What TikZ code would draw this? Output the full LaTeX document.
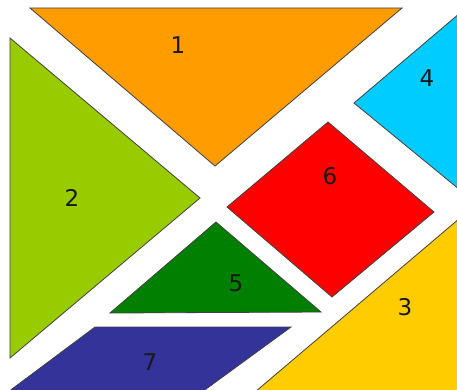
\documentclass[tikz,border=0pt]{standalone}
\usepackage{fontspec}
\setmainfont{DejaVu Sans}
\definecolor{pOrange}{HTML}{FF9C00}
\definecolor{pLime}{HTML}{99CC00}
\definecolor{pCyan}{HTML}{00CCFF}
\definecolor{pRed}{HTML}{FF0000}
\definecolor{pDark}{HTML}{007F00}
\definecolor{pBlue}{HTML}{333399}
\definecolor{pYellow}{HTML}{FFCC00}
\begin{document}
\begin{tikzpicture}[x=1pt,y=-1pt,
  piece/.style={draw=black!75, line width=0.8pt, line join=miter},
  num/.style={font=\fontsize{23}{27}\selectfont, text=black!90, inner sep=0pt}]
\useasboundingbox (0,0) rectangle (457,389);
\fill[white] (0,0) rectangle (457,389);
\begin{scope}
\clip (0,0) rectangle (457,389);
% 1 orange
\filldraw[piece, fill=pOrange] (30,8) -- (402,8) -- (215,166) -- cycle;
% 2 lime
\filldraw[piece, fill=pLime] (10,38) -- (200,198) -- (10,358) -- cycle;
% 4 cyan
\filldraw[piece, fill=pCyan] (354,103) -- (460,13) -- (460,190) -- cycle;
% 6 red
\filldraw[piece, fill=pRed] (328,122) -- (434,212) -- (332,297) -- (227,207) -- cycle;
% 5 dark green
\filldraw[piece, fill=pDark] (216,222) -- (321,312) -- (110,313) -- cycle;
% 7 blue
\filldraw[piece, fill=pBlue] (95,327) -- (291,327) -- (202,392) -- (8,392) -- cycle;
% 3 yellow
\filldraw[piece, fill=pYellow] (460,218) -- (460,392) -- (255,392) -- cycle;
\end{scope}
\node[num] (n1) at (178,45) {1};
\node[num] (n2) at (72,198) {2};
\node[num] (n3) at (405,307) {3};
\node[num] (n4) at (427,78) {4};
\node[num] (n5) at (236,283) {5};
\node[num] (n6) at (330,176) {6};
\node[num] (n7) at (150,362) {7};
\end{tikzpicture}
\end{document}
